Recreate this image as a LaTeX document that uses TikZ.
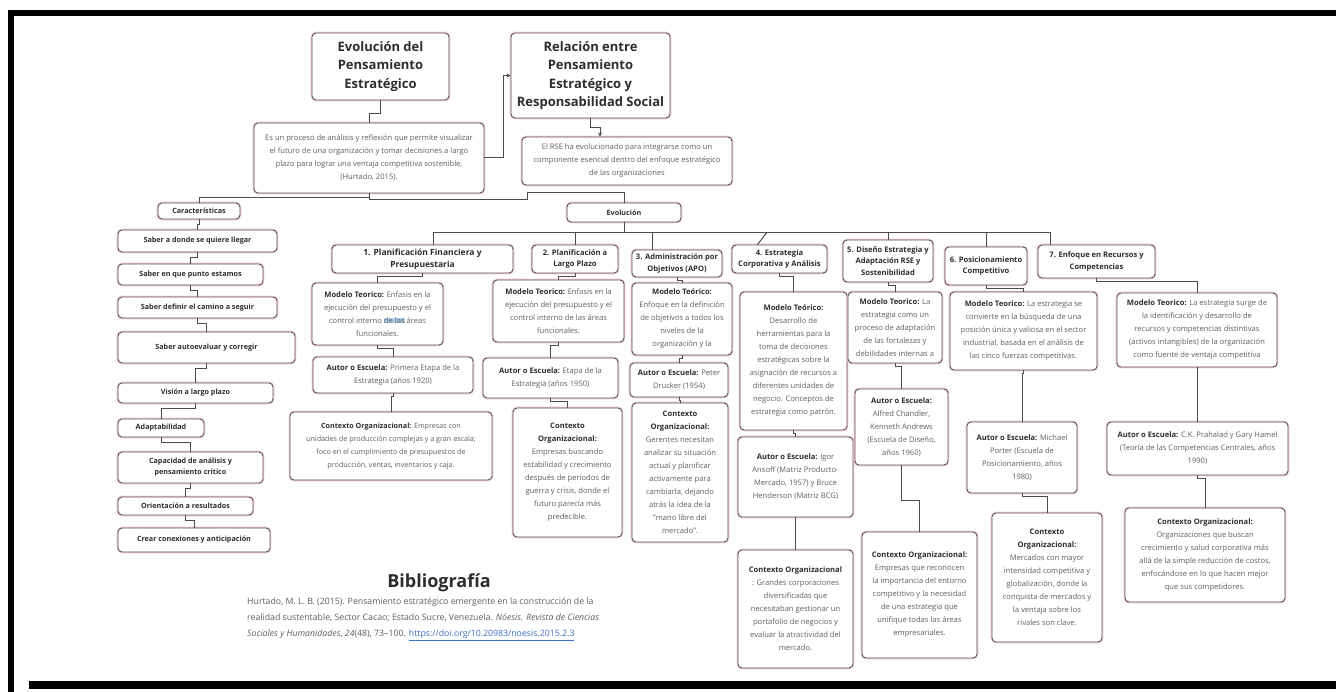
\documentclass[tikz,border=0pt]{standalone}
\usepackage{fontspec}
\setmainfont{Open Sans}
\usetikzlibrary{calc,arrows.meta}
\definecolor{bd}{RGB}{100,76,82}
\definecolor{glow}{RGB}{238,208,212}
\definecolor{ln}{RGB}{75,75,75}
\definecolor{dk}{RGB}{45,45,45}
\definecolor{tx}{RGB}{95,95,95}
\definecolor{lk}{RGB}{60,110,200}
\definecolor{hl}{RGB}{175,205,235}
\newcommand\lbl[1]{{\bfseries\color{dk}#1}}
\tikzset{
 box/.style={draw=bd, line width=0.9pt, rounded corners=4pt, fill=white, align=center, inner sep=2pt, text=tx,
   font=\fontsize{7.6}{13}\selectfont, preaction={draw=glow, line width=2.6pt}},
 ttl/.style={text=dk, font=\fontsize{13}{18.5}\selectfont\bfseries},
 hd/.style={text=dk, font=\fontsize{7.6}{11.5}\selectfont\bfseries},
 lft/.style={text=dk, font=\fontsize{7.2}{11}\selectfont\bfseries},
 con/.style={draw=ln, line width=1pt},
}
\newcommand\mybox[7][]{%
 \pgfmathsetmacro\bxw{#5-#3}\pgfmathsetmacro\bxh{#6-#4}%
 \pgfmathsetmacro\bxcx{(#3+#5)/2}\pgfmathsetmacro\bxcy{(#4+#6)/2}%
 \node[box,#1,minimum width=\bxw pt,minimum height=\bxh pt] (#2) at (\bxcx,\bxcy) {#7};}
\begin{document}
\begin{tikzpicture}[x=1pt,y=-1pt]
\useasboundingbox (0,0) rectangle (1336,692);
\fill[white] (0,0) rectangle (1336,692);
% frame
\fill[black] (8,10) rectangle (1336,16);
\fill[black] (8,10) rectangle (14,692);
\fill[black] (29,681) rectangle (1336,689);

% titles and descriptions
\mybox[ttl]{t1}{312}{33}{449}{100}{Evolución del\\Pensamiento\\Estratégico}
\mybox[ttl]{t2}{511}{33}{670}{118}{Relación entre\\Pensamiento\\Estratégico y\\Responsabilidad Social}
\mybox{d1}{254}{123}{484}{193}{Es un proceso de análisis y reflexión que permite visualizar\\el futuro de una organización y tomar decisiones a largo\\plazo para lograr una ventaja competitiva sostenible,\\(Hurtado, 2015).}
\mybox{d2}{522}{137}{732}{185}{El RSE ha evolucionado para integrarse como un\\componente esencial dentro del enfoque estratégico\\de las organizaciones}
\mybox[lft]{ch}{158}{203}{240}{219}{Características}
\mybox[lft]{ev}{567}{203}{681}{222}{Evolución}

% left column
\mybox[lft]{s1}{118}{230}{277}{252}{Saber a donde se quiere llegar}
\mybox[lft]{s2}{118}{264}{263}{285}{Saber en que punto estamos}
\mybox[lft]{s3}{118}{297}{277}{318}{Saber definir el camino a seguir}
\mybox[lft]{s4}{118}{332}{295}{363}{Saber autoevaluar y corregir}
\mybox[lft]{s5}{118}{383}{273}{403}{Visión a largo plazo}
\mybox[lft]{s6}{118}{419}{204}{437}{Adaptabilidad}
\mybox[lft]{s7}{118}{452}{263}{483}{Capacidad de análisis y\\pensamiento crítico}
\mybox[lft]{s8}{118}{497}{253}{515}{Orientación a resultados}
\mybox[lft]{s9}{118}{528}{270}{552}{Crear conexiones y anticipación}

% headers
\mybox[hd,font=\fontsize{8.5}{12}\selectfont\bfseries]{h1}{332}{245}{513}{273}{1. Planificación Financiera y\\Presupuestaria}
\mybox[hd]{h2}{532}{245}{618}{273}{2. Planificación a\\Largo Plazo}
\mybox[hd]{h3}{632}{250}{722}{277}{3. Administración por\\Objetivos (APO)}
\mybox[hd]{h4}{732}{245}{827}{273}{4. Estrategia\\Corporativa y Análisis}
\mybox[hd]{h5}{843}{240}{933}{282}{5. Diseño Estrategia y\\Adaptación RSE y\\Sostenibilidad}
\mybox[hd]{h6}{945}{247}{1027}{285}{6. Posicionamiento\\Competitivo}
\mybox[hd]{h7}{1038}{245}{1155}{278}{7. Enfoque en Recursos y\\Competencias}

% column 1
\mybox{m1}{312}{283}{443}{345}{\lbl{Modelo Teorico:} Enfasis en la\\ejecución del presupuesto y el\\control interno {\setlength\fboxsep{0pt}\colorbox{hl}{de las}} áreas\\funcionales.}
\mybox{a1}{313}{357}{473}{393}{\lbl{Autor o Escuela:} Primera Etapa de la\\Estrategia (años 1920)}
\mybox[font=\fontsize{7.2}{13}\selectfont]{c1}{290}{412}{492}{480}{\lbl{Contexto Organizacional:} Empresas con\\unidades de producción complejas y a gran escala;\\foco en el cumplimiento de presupuestos de\\producción, ventas, inventarios y caja.}
% column 2
\mybox{m2}{493}{280}{624}{342}{\lbl{Modelo Teorico:} Enfasis en la\\ejecución del presupuesto y el\\control interno de las áreas\\funcionales.}
\mybox{a2}{483}{358}{618}{398}{\lbl{Autor o Escuela:} Etapa de la\\Estrategia (años 1950)}
\mybox{c2}{513}{408}{622}{537}{\lbl{Contexto}\\\lbl{Organizacional:}\\Empresas buscando\\estabilidad y crecimiento\\después de periodos de\\guerra y crisis, donde el\\futuro parecía más\\predecible.}
% column 3
\mybox{m3}{632}{283}{732}{355}{\lbl{Modelo Teórico:}\\Enfoque en la definición\\de objetivos a todos los\\niveles de la\\organización y la}
\mybox{a3}{630}{363}{728}{397}{\lbl{Autor o Escuela:} Peter\\Drucker (1954)}
\mybox{c3}{632}{403}{728}{542}{\lbl{Contexto}\\\lbl{Organizacional:}\\Gerentes necesitan\\analizar su situación\\actual y planificar\\activamente para\\cambiarla, dejando\\atrás la idea de la\\"mano libre del\\mercado".}
% column 4
\mybox{m4}{740}{292}{847}{430}{\lbl{Modelo Teórico:}\\Desarrollo de\\herramientas para la\\toma de decisiones\\estratégicas sobre la\\asignación de recursos a\\diferentes unidades de\\negocio. Conceptos de\\estrategia como patrón.}
\mybox{a4}{738}{437}{853}{517}{\lbl{Autor o Escuela:} Igor\\Ansoff (Matriz Producto-\\Mercado, 1957) y Bruce\\Henderson (Matriz BCG)}
\mybox{c4}{738}{550}{853}{668}{\lbl{Contexto Organizacional}\\: Grandes corporaciones\\diversificadas que\\necesitaban gestionar un\\portafolio de negocios y\\evaluar la atractividad del\\mercado.}
% column 5
\mybox{m5}{848}{292}{942}{363}{\lbl{Modelo Teorico:} La\\estrategia como un\\proceso de adaptación\\de las fortalezas y\\debilidades internas a}
\mybox{a5}{855}{389}{948}{465}{\lbl{Autor o Escuela:}\\Alfred Chandler,\\Kenneth Andrews\\(Escuela de Diseño,\\años 1960)}
\mybox{c5}{862}{532}{977}{658}{\lbl{Contexto Organizacional:}\\Empresas que reconocen\\la importancia del entorno\\competitivo y la necesidad\\de una estrategia que\\unifique todas las áreas\\empresariales.}
% column 6
\mybox{m6}{950}{292}{1097}{370}{\lbl{Modelo Teorico:} La estrategia se\\convierte en la búsqueda de una\\posición única y valiosa en el sector\\industrial, basada en el análisis de\\las cinco fuerzas competitivas.}
\mybox{a6}{967}{422}{1077}{493}{\lbl{Autor o Escuela:} Michael\\Porter (Escuela de\\Posicionamiento, años\\1980)}
\mybox{c6}{992}{513}{1102}{642}{\lbl{Contexto}\\\lbl{Organizacional:}\\Mercados con mayor\\intensidad competitiva y\\globalización, donde la\\conquista de mercados y\\la ventaja sobre los\\rivales son clave.}
% column 7
\mybox{m7}{1117}{293}{1277}{367}{\lbl{Modelo Teorico:} La estrategia surge de\\la identificación y desarrollo de\\recursos y competencias distintivas\\(activos intangibles) de la organización\\como fuente de ventaja competitiva}
\mybox{a7}{1107}{422}{1288}{475}{\lbl{Autor o Escuela:} C.K. Prahalad y Gary Hamel\\(Teoría de las Competencias Centrales, años\\1990)}
\mybox{c7}{1125}{508}{1285}{602}{\lbl{Contexto Organizacional:}\\Organizaciones que buscan\\crecimiento y salud corporativa más\\allá de la simple reducción de costos,\\enfocándose en lo que hacen mejor\\que sus competidores.}

% bibliography
\node[font=\fontsize{18}{22}\selectfont\bfseries, text=dk] (bt) at (439,583) {Bibliografía};
\node[anchor=north west, align=left, font=\fontsize{8.75}{16}\selectfont, text=tx, inner sep=0pt] (bref) at (247,598) {Hurtado, M. L. B. (2015). Pensamiento estratégico emergente en la construcción de la\\realidad sustentable, Sector Cacao; Estado Sucre, Venezuela. \textit{Nóesis. Revista de Ciencias}\\\textit{Sociales y Humanidades}, \textit{24}(48), 73–100. {\color{lk}\underline{https://doi.org/10.20983/noesis.2015.2.3}}};

% connectors top
\draw[con] (t1.south) -- ++(0,13) -| (d1.north);
\draw[con,-{Stealth[length=4pt,width=4pt]}] (d1.east) -- ++(19,0) |- (t2.west);
\draw[con,-{Stealth[length=4pt,width=4pt]}] (t2.south) -- ++(0,9) -| ([xshift=-27pt]d2.north);
\draw[con] (d1.south) -- ++(0,4) -| (ch.north);
\draw[con] (d1.south) -- ++(0,6) -- ++(158,0) -- ++(0,-7) -| (ev.north);
% left chain
\foreach \a/\b in {ch/s1,s1/s2,s2/s3,s3/s4,s4/s5,s5/s6,s6/s7,s7/s8,s8/s9}
  \draw[con] (\a.south) -- ++(0,5) -| (\b.north);
% bus
\coordinate (bus) at (0,233);
\draw[con] ([xshift=11pt]h1.north) |- ([xshift=-46pt]h7.north |- bus) -- ([xshift=-46pt]h7.north);
\draw[con] (ev.south) -- (ev.south |- bus);
\draw[con] (h2.north) -- (h2.north |- bus);
\draw[con] ([xshift=-25pt]h3.north) -- ([xshift=-25pt]h3.north |- bus);
\draw[con] ([xshift=-22pt]h4.north) -- ($([xshift=-22pt]h4.north |- bus)+(9,0)$);
\draw[con] (h5.north) -- (h5.north |- bus);
\draw[con] (h6.north) -- (h6.north |- bus);
% columns
\foreach \a/\b in {h1/m1,m1/a1,a1/c1,h2/m2,m2/a2,a2/c2,h3/m3,m3/a3,a3/c3,h4/m4,m4/a4,a4/c4,h5/m5,m5/a5,h6/m6,m6/a6,a6/c6,h7/m7,m7/a7,a7/c7}
  \draw[con] (\a.south) -- ++(0,3) -| (\b.north);
\draw[con] (a5.south) -- ++(0,35) -| (c5.north);
\end{tikzpicture}
\end{document}
